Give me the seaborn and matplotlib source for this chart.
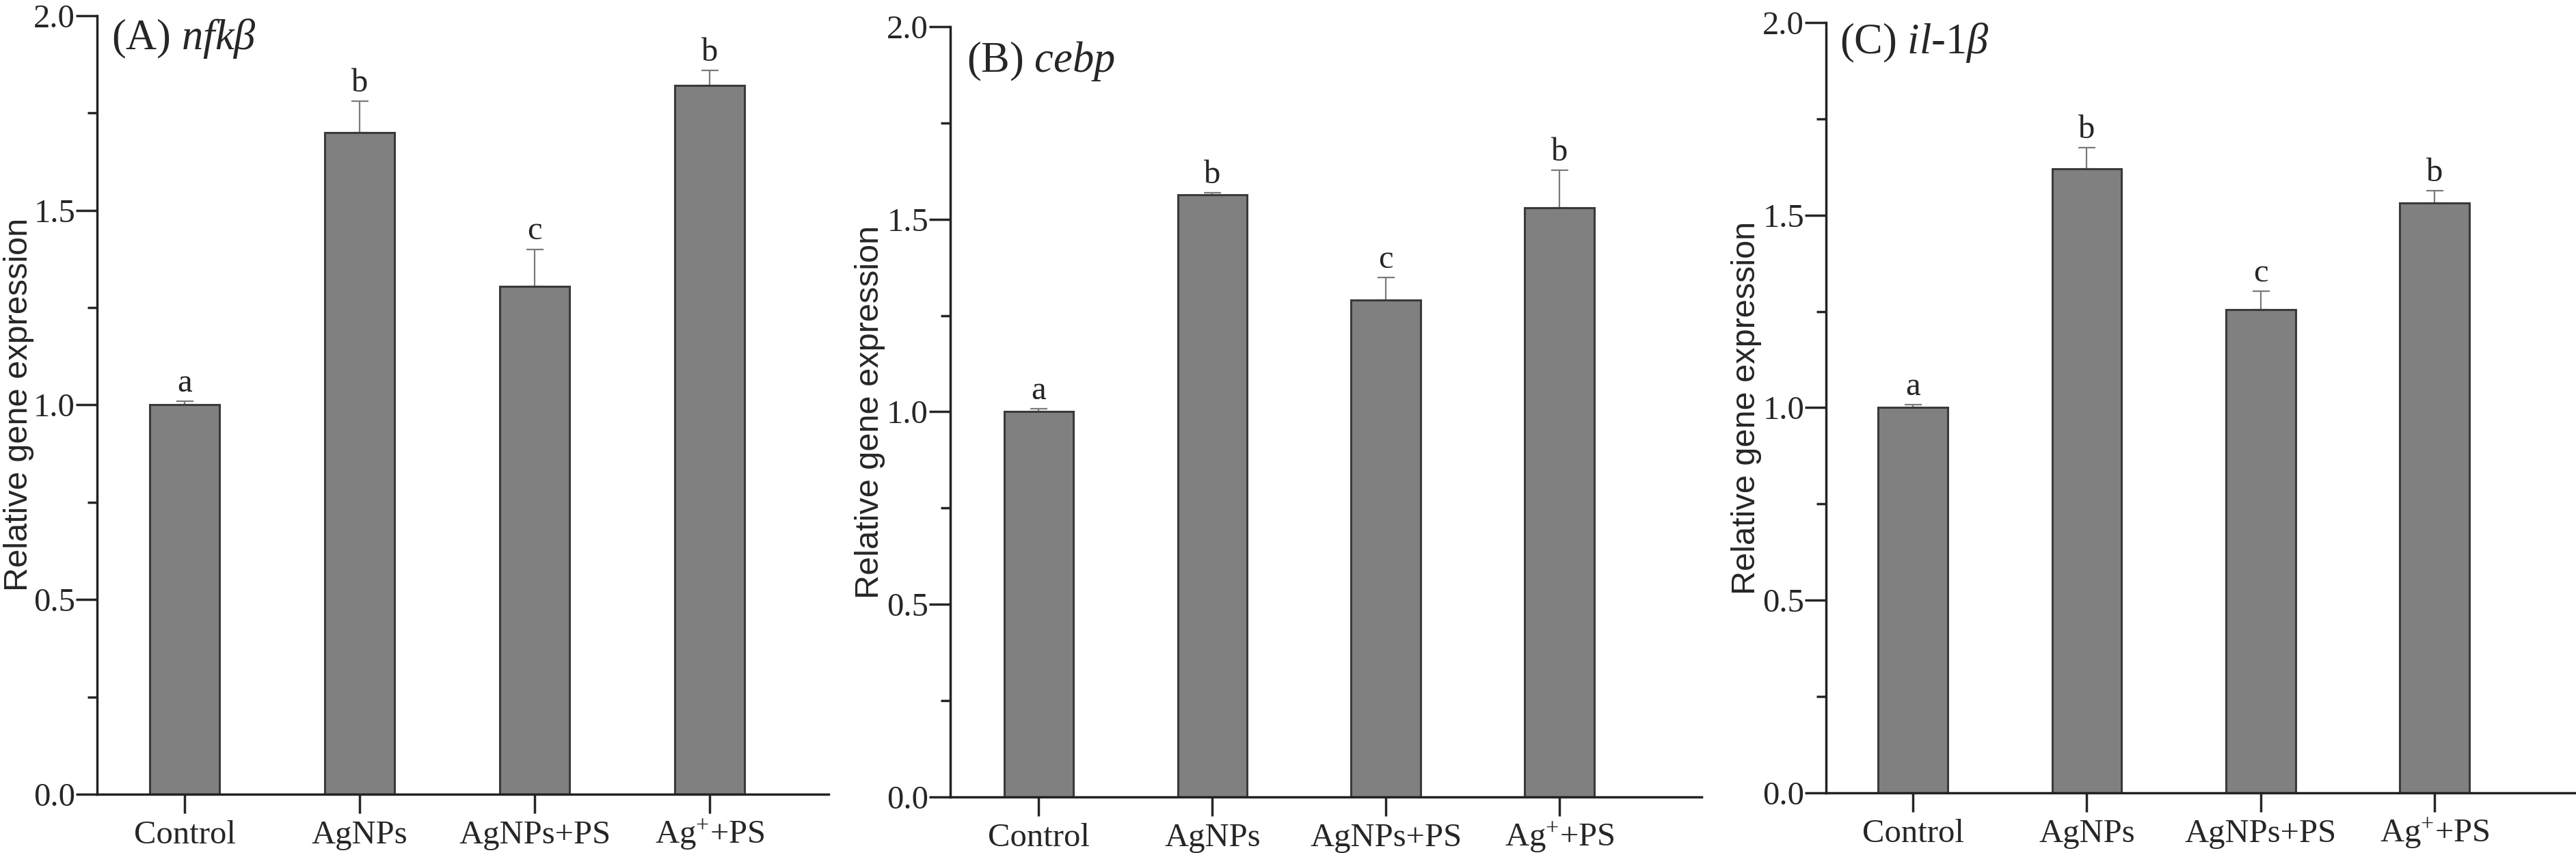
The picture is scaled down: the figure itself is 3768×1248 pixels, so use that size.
import numpy as np
import matplotlib
matplotlib.use("Agg")
import matplotlib.pyplot as plt
import matplotlib.transforms as mtransforms
import seaborn as sns
from matplotlib.ticker import MultipleLocator, FormatStrFormatter

# data
groups = ["Control", "AgNPs", "AgNPs+PS", "Ag$^{+}$+PS"]

nfkb_mean = [1.00, 1.70, 1.305, 1.82]
nfkb_err = [0.01, 0.08, 0.095, 0.04]
nfkb_letters = ["a", "b", "c", "b"]

cebp_mean = [1.00, 1.564, 1.29, 1.529]
cebp_err = [0.008, 0.004, 0.058, 0.098]
cebp_letters = ["a", "b", "c", "b"]

il1b_mean = [1.00, 1.621, 1.254, 1.532]
il1b_err = [0.008, 0.054, 0.048, 0.031]
il1b_letters = ["a", "b", "c", "b"]

titles = [r"(A) $\mathit{nfk\beta}$", r"(B) $\mathit{cebp}$", r"(C) $\mathit{il}$-$\mathit{1\beta}$"]

sns.set_style("ticks")
plt.rcParams["font.family"] = ["Liberation Serif", "DejaVu Serif"]
plt.rcParams["mathtext.fontset"] = "custom"
plt.rcParams["mathtext.rm"] = "Liberation Serif"
plt.rcParams["mathtext.it"] = "Liberation Serif:italic"
plt.rcParams["mathtext.bf"] = "Liberation Serif:bold"

fig = plt.figure(figsize=(37.68, 12.48), dpi=100)

# axes boxes [left, bottom, width, height] in figure fraction
boxes = [
    [0.0377, 0.069, 0.2840, 0.9126],
    [0.3689, 0.0657, 0.2917, 0.9031],
    [0.7089, 0.0705, 0.2908, 0.9031],
]
xlims = [(-0.5, 3.68), (-0.51, 3.82), (-0.5, 3.81)]
title_y = [1.914, 1.883, 1.92]
title_x = [0.02, 0.022, 0.018]

panels = [
    (nfkb_mean, nfkb_err, nfkb_letters),
    (cebp_mean, cebp_err, cebp_letters),
    (il1b_mean, il1b_err, il1b_letters),
]

for i, (means, errs, letters) in enumerate(panels):
    ax = fig.add_axes(boxes[i])
    sns.barplot(x=groups, y=means, color="#808080", saturation=1, width=0.4,
                edgecolor="#3a3a3a", linewidth=2.2, errorbar=None, ax=ax, zorder=2)
    xs = np.arange(len(groups))
    ax.errorbar(xs, means, yerr=[np.zeros(len(errs)), errs], fmt="none",
                ecolor="#7a7a7a", elinewidth=1.6, capsize=9, capthick=1.6, zorder=1)
    for x, m, e, lab in zip(xs, means, errs, letters):
        ax.annotate(lab, (x, m + e), xytext=(0, 3), textcoords="offset points",
                    ha="center", va="bottom", fontsize=35)

    ax.set_ylim(0, 2.0)
    ax.set_xlim(*xlims[i])
    ax.set_yticks([0, 0.5, 1.0, 1.5, 2.0])
    ax.yaxis.set_minor_locator(MultipleLocator(0.25))
    ax.yaxis.set_major_formatter(FormatStrFormatter("%.1f"))
    ax.tick_params(axis="y", which="major", length=22, width=2.5, labelsize=35, pad=1)
    ax.tick_params(axis="y", which="minor", length=10, width=2.5)
    ax.tick_params(axis="x", which="major", length=20, width=2.5, labelsize=35, pad=32)
    for t in ax.xaxis.get_major_ticks():
        t.label1.set_verticalalignment("baseline")
    ax.set_xlabel("")
    ax.set_ylabel("Relative gene expression", fontsize=35,
                  family=["Liberation Sans", "DejaVu Sans"])
    ax.yaxis.set_label_coords(-0.086, 0.5)
    for side in ["left", "bottom"]:
        ax.spines[side].set_linewidth(2.5)
        ax.spines[side].set_color("#222222")
    sns.despine(ax=ax)
    trans = mtransforms.blended_transform_factory(ax.transAxes, ax.transData)
    ax.text(title_x[i], title_y[i], titles[i], transform=trans,
            fontsize=45, ha="left", va="baseline")

fig.savefig("out.png", dpi=100, facecolor="white")
